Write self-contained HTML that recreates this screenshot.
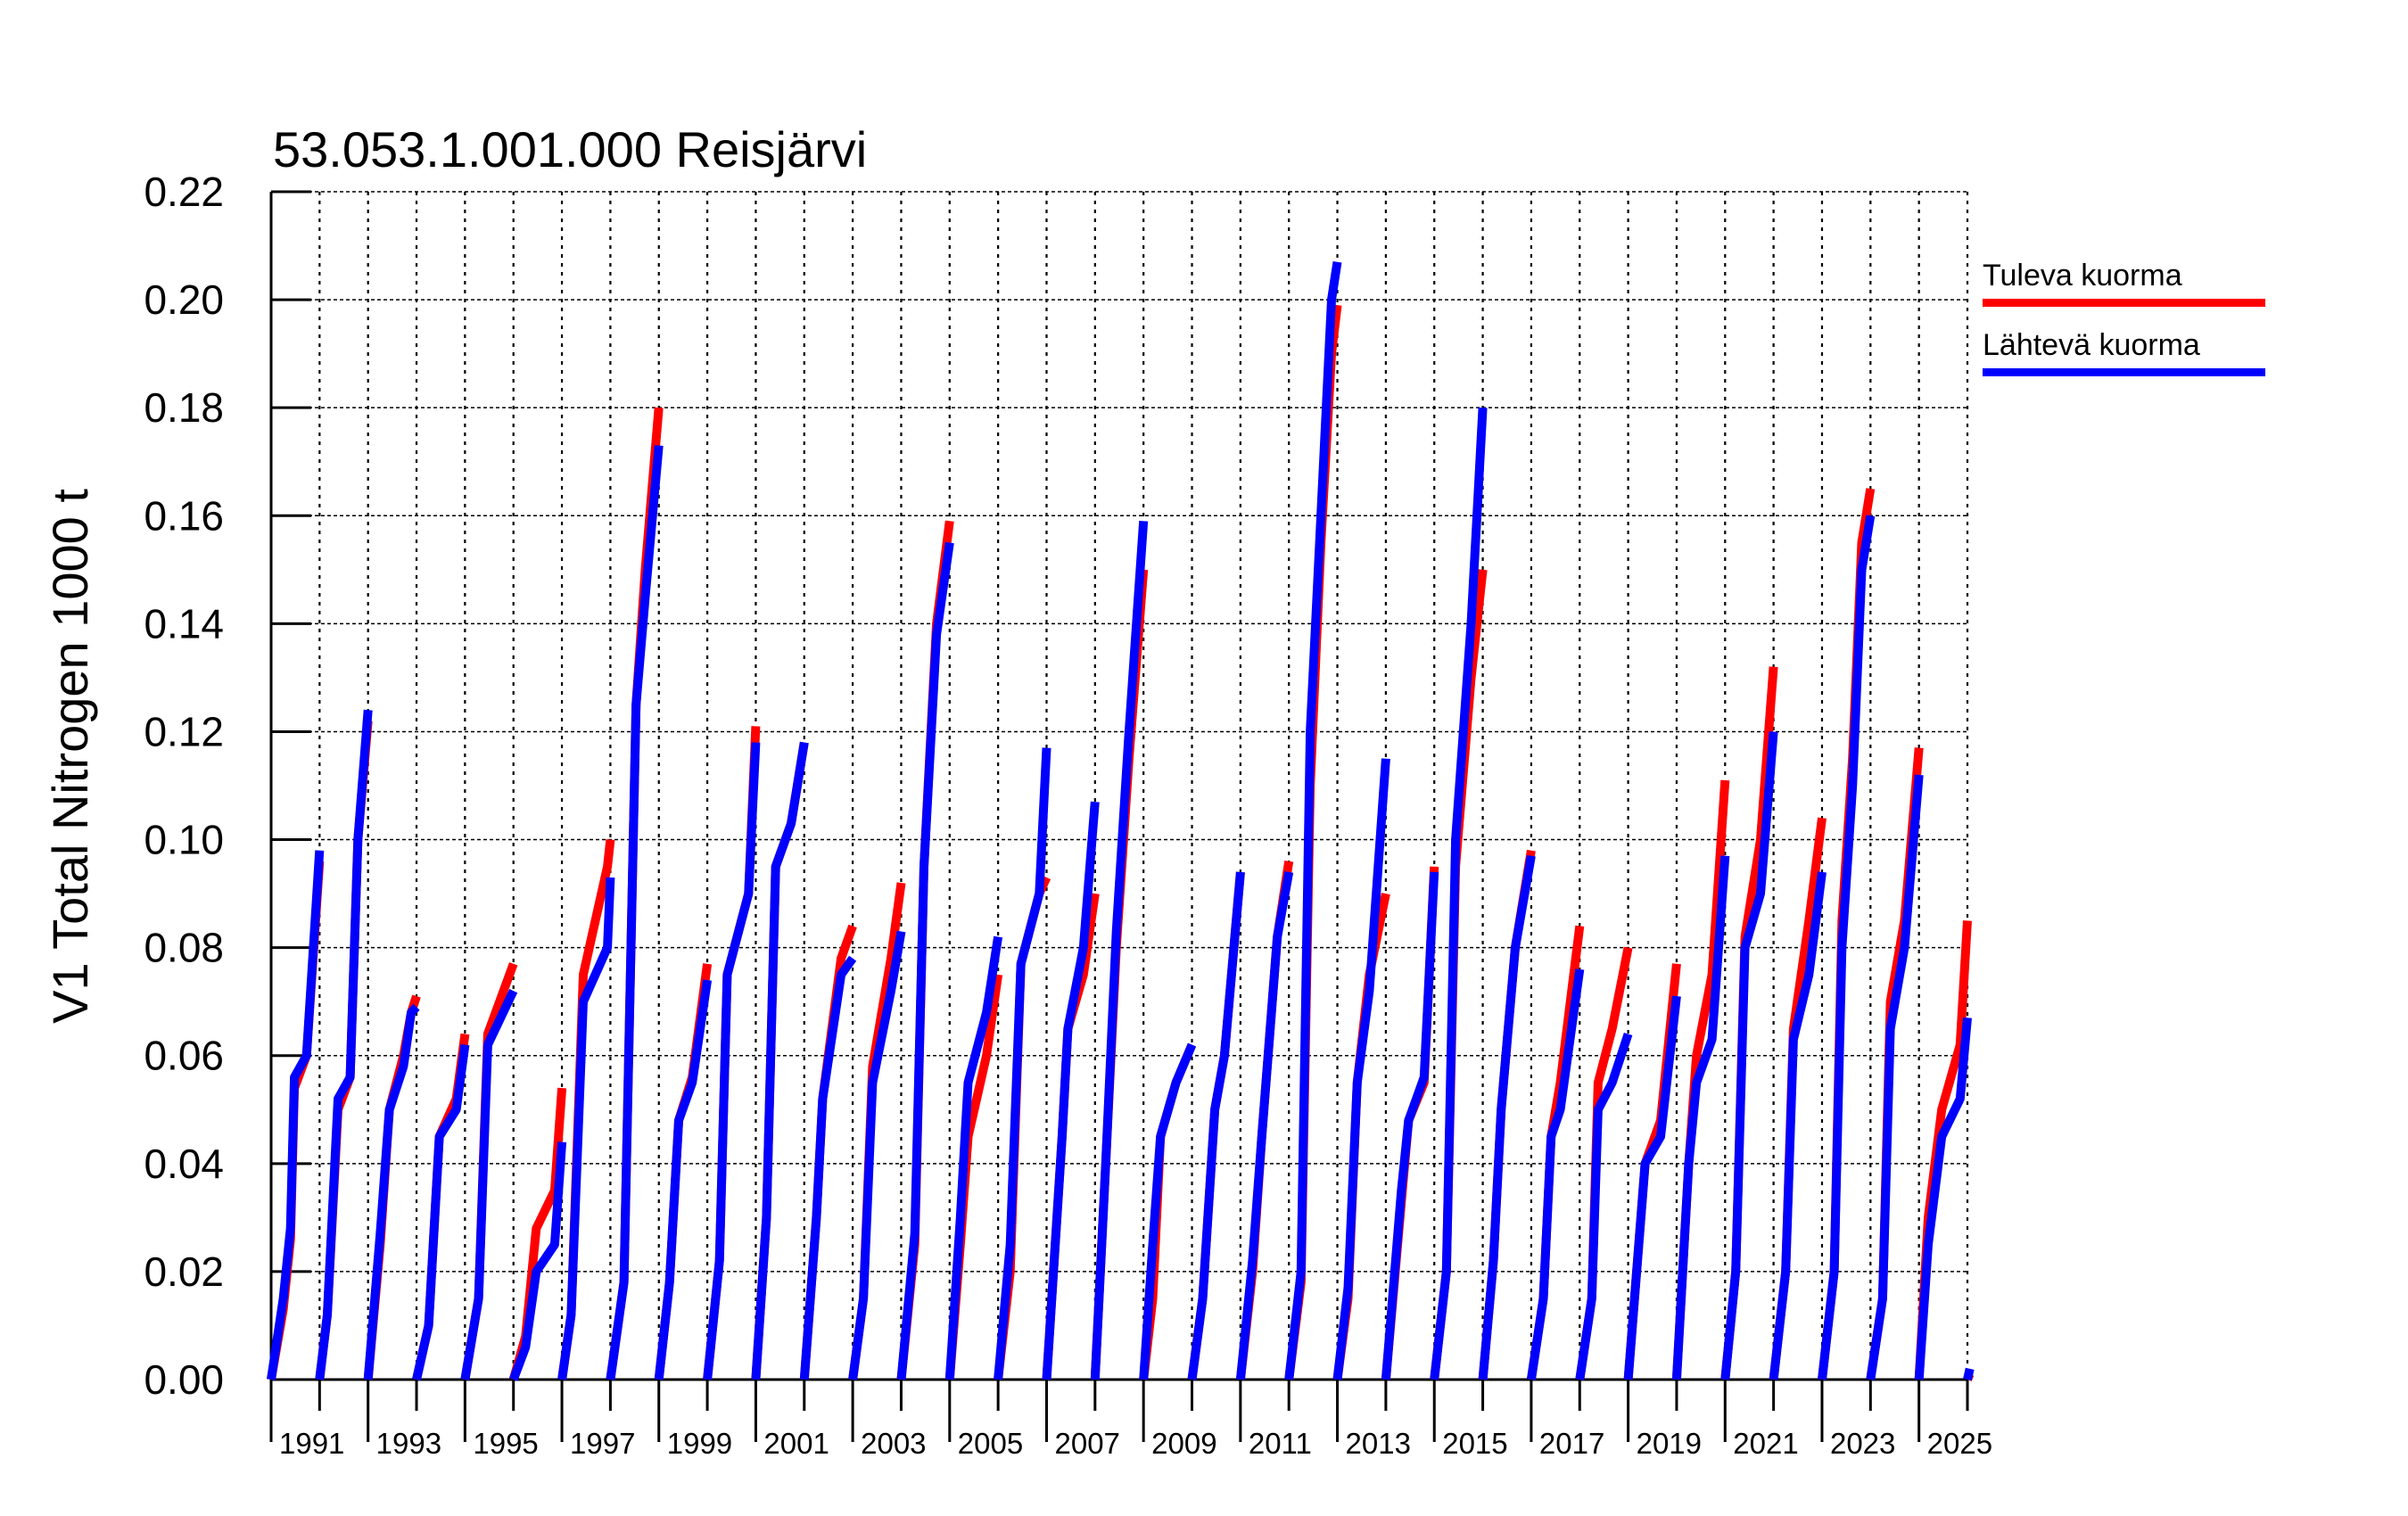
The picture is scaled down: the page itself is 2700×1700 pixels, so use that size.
<!DOCTYPE html>
<html><head><meta charset="utf-8"><style>
html,body{margin:0;padding:0;background:#fff}
svg{display:block}
text{font-family:"Liberation Sans",sans-serif;fill:#000}
</style></head><body>
<svg id="chart" width="2700" height="1700" viewBox="0 0 2700 1700" xmlns="http://www.w3.org/2000/svg">
<text x="306" y="187" font-size="56">53.053.1.001.000 Reisjärvi</text>
<text transform="translate(98,848) rotate(-90)" text-anchor="middle" font-size="56">V1 Total Nitrogen 1000 t</text>
<g id="grid"></g>
<g id="axes"></g>
<g id="series"></g>
<g>
<text x="2223" y="320" font-size="34">Tuleva kuorma</text>
<rect x="2223" y="335" width="317" height="9" fill="#ff0000"/>
<text x="2223" y="398" font-size="34">Lähtevä kuorma</text>
<rect x="2223" y="413" width="317" height="9" fill="#0000ff"/>
</g>
</svg>
<script>
const years=[1990,1991,1992,1993,1994,1995,1996,1997,1998,1999,2000,2001,2002,2003,2004,2005,2006,2007,2008,2009,2010,2011,2012,2013,2014,2015,2016,2017,2018,2019,2020,2021,2022,2023,2024,2025];
const fracs=[[0,.25,.4,.48,.73,1],[0,.16,.38,.63,.79,1],[0,.25,.44,.73,.89,1],[0,.25,.47,.82,1],[0,.28,.47,1],[0,.25,.47,.85,1],[0,.19,.44,.94,1],[0,.28,.53,.72,1],[0,.22,.41,.69,1],[0,.25,.41,.85,1],[0,.22,.41,.73,1],[0,.25,.38,.76,1],[0,.22,.41,.79,1],[0,.28,.47,.73,1],[0,.22,.38,.76,1],[0,.25,.47,.85,1],[0,.32,.44,.76,1],[0,.22,.44,.7,1],[0,.19,.35,.67,1],[0,.22,.47,.67,1],[0,.25,.44,.76,1],[0,.25,.44,.66,.88,1],[0,.22,.41,.66,1],[0,.32,.47,.79,1],[0,.25,.44,.76,1],[0,.22,.38,.67,1],[0,.25,.41,.6,1],[0,.25,.38,.67,1],[0,.35,.67,1],[0,.25,.41,.73,1],[0,.22,.41,.73,1],[0,.25,.41,.73,1],[0,.25,.41,.63,.82,1],[0,.25,.41,.7,1],[0,.19,.47,.85,1],[0,.05]];
const blueVals=[[0,.015,.028,.056,.06,.098],[0,.012,.052,.056,.1,.124],[0,.027,.05,.058,.068,.069],[0,.01,.045,.05,.062],[0,.015,.062,.072],[0,.006,.02,.025,.044],[0,.012,.07,.08,.093],[0,.018,.125,.145,.173],[0,.018,.048,.055,.074],[0,.022,.075,.09,.118],[0,.03,.095,.103,.118],[0,.03,.052,.075,.078],[0,.015,.055,.072,.083],[0,.027,.095,.138,.155],[0,.03,.055,.068,.082],[0,.025,.077,.09,.117],[0,.045,.065,.08,.107],[0,.04,.083,.12,.159],[0,.025,.045,.055,.062],[0,.015,.05,.06,.094],[0,.022,.045,.082,.094],[0,.02,.12,.16,.2,.207],[0,.017,.055,.072,.115],[0,.035,.048,.056,.094],[0,.02,.1,.14,.18],[0,.022,.05,.08,.097],[0,.015,.045,.05,.076],[0,.015,.05,.055,.064],[0,.04,.045,.071],[0,.04,.055,.063,.097],[0,.02,.08,.09,.12],[0,.02,.063,.075,.094],[0,.02,.08,.11,.15,.16],[0,.015,.065,.08,.112],[0,.025,.045,.052,.067],[0,.002]];
const redVals=[[0,.013,.026,.054,.06,.096],[0,.012,.05,.056,.1,.122],[0,.025,.05,.06,.068,.071],[0,.01,.045,.052,.064],[0,.015,.064,.077],[0,.008,.028,.035,.054],[0,.012,.075,.095,.1],[0,.018,.125,.15,.18],[0,.018,.048,.056,.077],[0,.022,.075,.09,.121],[0,.03,.095,.103,.118],[0,.03,.052,.078,.084],[0,.015,.058,.078,.092],[0,.025,.095,.14,.159],[0,.025,.045,.06,.075],[0,.02,.077,.09,.093],[0,.045,.065,.075,.09],[0,.04,.08,.115,.15],[0,.015,.045,.055,.062],[0,.015,.05,.06,.094],[0,.02,.045,.082,.096],[0,.018,.11,.155,.19,.199],[0,.015,.055,.075,.09],[0,.033,.048,.055,.095],[0,.02,.095,.13,.15],[0,.022,.05,.08,.098],[0,.015,.045,.055,.084],[0,.015,.055,.065,.08],[0,.04,.048,.077],[0,.04,.06,.075,.111],[0,.02,.082,.1,.132],[0,.02,.065,.085,.104],[0,.02,.085,.115,.155,.165],[0,.015,.07,.085,.117],[0,.03,.05,.062,.085],[0,.001]];
const yTicks=[0,0.02,0.04,0.06,0.08,0.10,0.12,0.14,0.16,0.18,0.20,0.22];
const xLabels=[1991,1993,1995,1997,1999,2001,2003,2005,2007,2009,2011,2013,2015,2017,2019,2021,2023,2025];

const X0=304,X1=2206,Y0=1547,Y1=215,T0=1990,T1=2025,VMAX=0.22;
const xs=t=>X0+(t-T0)/(T1-T0)*(X1-X0);
const ys=v=>Y0-v/VMAX*(Y0-Y1);
const NS='http://www.w3.org/2000/svg';
function mk(tag,parent,attrs){const e=document.createElementNS(NS,tag);for(const k in attrs)e.setAttribute(k,attrs[k]);parent.appendChild(e);return e;}
const grid=document.getElementById('grid'),axes=document.getElementById('axes'),series=document.getElementById('series');

for(let y=T0+1;y<=T1;y++){
  const l=mk('line',grid,{x1:xs(y),x2:xs(y),y1:Y1,y2:Y0,stroke:'#000','stroke-width':2.2,'stroke-dasharray':'4,6'});
  
  
}
yTicks.forEach(v=>{
  if(v>0){
    const l=mk('line',grid,{x1:X0,x2:X1,y1:ys(v),y2:ys(v),stroke:'#000','stroke-width':1.5,'stroke-dasharray':'4,3'});
    
    
  }
  const t=mk('line',axes,{x1:X0,x2:X0+45,y1:ys(v),y2:ys(v),stroke:'#000','stroke-width':3});
  
  
  const lb=mk('text',axes,{x:251,y:ys(v)+16,'text-anchor':'end','font-size':46});
  lb.textContent=v.toFixed(2);
  
  
});
const ax=mk('line',axes,{x1:X0,x2:X0,y1:Y1,y2:Y0,stroke:'#000','stroke-width':3});


const bx=mk('line',axes,{x1:X0,x2:X1,y1:Y0,y2:Y0,stroke:'#000','stroke-width':3});


for(let y=T0;y<=T1;y++){
  const long=(y%2===0);
  const t=mk('line',axes,{x1:xs(y),x2:xs(y),y1:Y0,y2:long?1617:1582,stroke:'#000','stroke-width':3});
  
  
}
xLabels.forEach(y=>{
  const lb=mk('text',axes,{x:xs(y-1)+9,y:1630,'font-size':33});
  lb.textContent=y;
  
  
});
function drawSeries(vals,color,name){
  years.forEach((yr,i)=>{
    const pts=fracs[i].map((f,j)=>xs(yr+f).toFixed(1)+','+ys(vals[i][j]).toFixed(1)).join(' ');
    const p=mk('polyline',series,{points:pts,fill:'none',stroke:color,'stroke-width':10,'stroke-linejoin':'round'});
    
    
  });
}
drawSeries(redVals,'#ff0000','tuleva-kuorma-line');
drawSeries(blueVals,'#0000ff','lahteva-kuorma-line');
</script>
</body></html>
